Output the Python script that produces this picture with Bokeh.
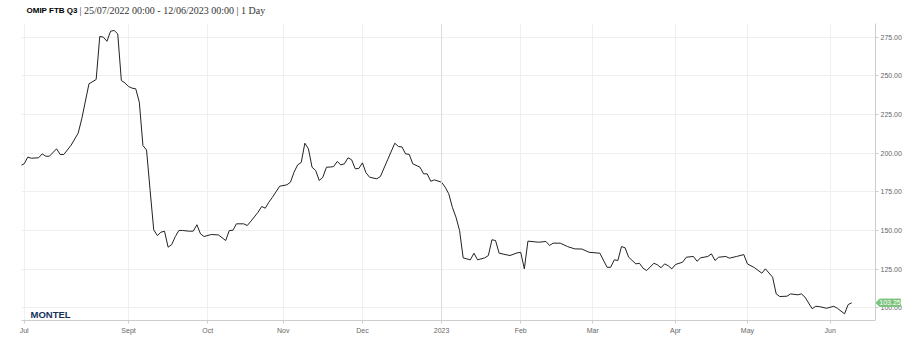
import numpy as np
from bokeh.plotting import figure
from bokeh.layouts import column, row
from bokeh.models import (Range1d, FixedTicker, NumeralTickFormatter, Label, Span,
                          ColumnDataSource, CustomJSTickFormatter)
from bokeh.core.properties import value
from bokeh.embed import file_html
from bokeh.resources import INLINE

# ---------------- data ----------------
dates = [
    "2022-07-21", "2022-07-22", "2022-07-25", "2022-07-26", "2022-07-28", "2022-07-29",
    "2022-08-01", "2022-08-02", "2022-08-04", "2022-08-05", "2022-08-08", "2022-08-10",
    "2022-08-12", "2022-08-15", "2022-08-17", "2022-08-19", "2022-08-22", "2022-08-23",
    "2022-08-24", "2022-08-25", "2022-08-26", "2022-08-29", "2022-08-30", "2022-08-31",
    "2022-09-01", "2022-09-02", "2022-09-05", "2022-09-06", "2022-09-07", "2022-09-08",
    "2022-09-09", "2022-09-12", "2022-09-13", "2022-09-14", "2022-09-15", "2022-09-16",
    "2022-09-19", "2022-09-20", "2022-09-21", "2022-09-22", "2022-09-26", "2022-09-27",
    "2022-09-28", "2022-09-29", "2022-09-30", "2022-10-04", "2022-10-06", "2022-10-10",
    "2022-10-11", "2022-10-12", "2022-10-13", "2022-10-17", "2022-10-18", "2022-10-19",
    "2022-10-21", "2022-10-24", "2022-10-25", "2022-10-26", "2022-10-27", "2022-10-31",
    "2022-11-02", "2022-11-03", "2022-11-04", "2022-11-07", "2022-11-08", "2022-11-09",
    "2022-11-10", "2022-11-11", "2022-11-14", "2022-11-15", "2022-11-16", "2022-11-17",
    "2022-11-18", "2022-11-21", "2022-11-22", "2022-11-23", "2022-11-24", "2022-11-25",
    "2022-11-28", "2022-11-29", "2022-11-30", "2022-12-01", "2022-12-02", "2022-12-05",
    "2022-12-07", "2022-12-08", "2022-12-12", "2022-12-14", "2022-12-15", "2022-12-16",
    "2022-12-19", "2022-12-20", "2022-12-21", "2022-12-23", "2022-12-26", "2022-12-27",
    "2022-12-28", "2022-12-29", "2023-01-02", "2023-01-03", "2023-01-04", "2023-01-05",
    "2023-01-06", "2023-01-09", "2023-01-10", "2023-01-12", "2023-01-13", "2023-01-16",
    "2023-01-18", "2023-01-19", "2023-01-20", "2023-01-23", "2023-01-24", "2023-01-27",
    "2023-01-31", "2023-02-01", "2023-02-02", "2023-02-03", "2023-02-08", "2023-02-10",
    "2023-02-13", "2023-02-14", "2023-02-16", "2023-02-20", "2023-02-22", "2023-02-24",
    "2023-02-28", "2023-03-03", "2023-03-07", "2023-03-08", "2023-03-09", "2023-03-10",
    "2023-03-13", "2023-03-14", "2023-03-15", "2023-03-17", "2023-03-20", "2023-03-21",
    "2023-03-22", "2023-03-24", "2023-03-27", "2023-03-28", "2023-03-29", "2023-03-30",
    "2023-03-31", "2023-04-03", "2023-04-05", "2023-04-06", "2023-04-10", "2023-04-11",
    "2023-04-12", "2023-04-14", "2023-04-17", "2023-04-18", "2023-04-19", "2023-04-21",
    "2023-04-24", "2023-04-26", "2023-04-28", "2023-05-01", "2023-05-03", "2023-05-05",
    "2023-05-08", "2023-05-10", "2023-05-11", "2023-05-12", "2023-05-16", "2023-05-17",
    "2023-05-19", "2023-05-22", "2023-05-23", "2023-05-25", "2023-05-26", "2023-05-29",
    "2023-05-31", "2023-06-02", "2023-06-05", "2023-06-07", "2023-06-08", "2023-06-09",
]
values = [
    192.0, 193.1, 197.4, 196.7, 197.0, 199.5,
    198.0, 198.0, 202.8, 199.1, 199.1, 205.0,
    212.9, 222.2, 244.8, 247.6, 275.4, 275.0,
    272.3, 278.8, 279.3, 277.1, 246.9, 245.4,
    243.1, 242.0, 241.6, 232.9, 204.9, 202.0,
    175.8, 150.4, 146.7, 148.9, 149.5, 139.2,
    140.9, 146.1, 150.0, 150.0, 149.5, 149.6,
    153.7, 147.8, 146.1, 147.4, 147.1, 143.5,
    150.0, 150.1, 154.3, 154.3, 153.2, 156.0,
    161.8, 165.5, 164.4, 168.3, 171.5, 178.6,
    179.5, 181.2, 187.7, 192.4, 194.0, 206.4,
    202.8, 190.9, 188.8, 182.3, 184.4, 190.9,
    191.0, 191.3, 194.6, 192.4, 193.1, 197.0,
    195.7, 189.9, 190.1, 193.7, 187.3, 184.4,
    183.4, 184.9, 195.7, 206.4, 204.3, 204.0,
    199.5, 199.2, 193.1, 190.9, 186.6, 186.6,
    181.8, 182.7, 181.2, 178.0, 173.7, 165.0,
    158.6, 150.0, 132.3, 131.0, 135.3, 131.0,
    132.3, 133.8, 144.0, 143.5, 135.3, 133.8,
    135.5, 135.9, 125.2, 143.1, 142.4, 142.9,
    140.3, 141.8, 141.8, 139.6, 138.1, 138.0,
    135.9, 135.3, 126.2, 126.2, 131.0, 130.6,
    139.6, 138.8, 132.7, 128.4, 128.8, 125.6,
    124.1, 128.8, 127.8, 125.9, 128.4, 127.2,
    125.2, 128.0, 129.5, 132.7, 133.2, 130.1,
    132.3, 133.2, 134.9, 130.6, 132.7, 133.2,
    132.1, 133.2, 134.4, 128.4, 125.9, 122.4,
    125.2, 119.8, 109.0, 107.3, 107.5, 109.0,
    108.4, 109.0, 106.9, 99.4, 101.0, 100.8,
    99.7, 101.0, 99.7, 96.1, 102.1, 103.25,
]
last_value = 103.25

tick_dates = ["2022-07-22", "2022-09-01", "2022-10-03", "2022-11-01", "2022-12-01",
              "2023-01-02", "2023-02-01", "2023-03-01", "2023-04-03", "2023-05-01",
              "2023-06-01"]
tick_labels = ["Jul", "Sept", "Oct", "Nov", "Dec", "2023", "Feb", "Mar", "Apr", "May", "Jun"]
y_ticks = [100, 125, 150, 175, 200, 225, 250, 275]

title_name = "OMIP FTB Q3"
title_range = "25/07/2022 00:00 - 12/06/2023 00:00"
title_interval = "1 Day"

# ordinal (trading-session) x positions, like the original's ordinal axis
origin = np.datetime64("2022-07-25")
xs = np.busday_count(origin, np.array(dates, dtype="datetime64[D]")).astype(float)
tick_pos = [int(v) for v in np.busday_count(origin, np.array(tick_dates, dtype="datetime64[D]"))]

src = ColumnDataSource(dict(x=xs, y=values))
yr = Range1d(91.8, 283.8)

GRID = "#efefef"
AXIS = "#cccccc"
LABEL = "#666666"

# ---------------- title strip ----------------
tf = figure(width=911, height=23, output_backend="svg", toolbar_location=None,
            x_range=Range1d(0, 911), y_range=Range1d(0, 23),
            x_axis_location=None, y_axis_location=None,
            min_border_left=0, min_border_right=0, min_border_top=0, min_border_bottom=0)
tf.outline_line_color = None
tf.xgrid.visible = False
tf.ygrid.visible = False
tf.add_layout(Label(x=26, y=13, x_units="screen", y_units="screen", text=title_name,
                    text_font="Liberation Sans", text_font_style="bold", text_font_size="8px",
                    text_color="#000000", text_baseline="middle"))
tf.add_layout(Label(x=79, y=13, x_units="screen", y_units="screen",
                    text="| " + title_range + " | " + title_interval,
                    text_font="Liberation Serif", text_font_size="10px",
                    text_color="#333333", text_baseline="middle"))

# ---------------- main chart ----------------
p = figure(width=875, height=330, output_backend="svg", toolbar_location=None,
           x_range=Range1d(-1.75, 235.6), y_range=yr, y_axis_location=None,
           min_border_left=21, min_border_right=0, min_border_top=0, min_border_bottom=33)
p.outline_line_color = None
p.xgrid.ticker = FixedTicker(ticks=tick_pos)
p.xgrid.grid_line_color = GRID
p.ygrid.ticker = FixedTicker(ticks=y_ticks)
p.ygrid.grid_line_color = GRID

xa = p.xaxis[0]
xa.ticker = FixedTicker(ticks=tick_pos)
xa.major_label_overrides = {t: l for t, l in zip(tick_pos, tick_labels)}
xa.axis_line_color = AXIS
xa.major_tick_line_color = AXIS
xa.major_tick_out = 3
xa.major_tick_in = 0
xa.minor_tick_line_color = None
xa.major_label_text_font = "Liberation Sans"
xa.major_label_text_font_size = "7px"
xa.major_label_text_color = LABEL
xa.major_label_standoff = 3

p.add_layout(Span(location=tick_pos[5], dimension="height", line_color="#dcdcdc", line_width=1))
p.line("x", "y", source=src, line_color="#222222", line_width=1)

p.add_layout(Label(x=9, y=6, x_units="screen", y_units="screen", text="MONTEL",
                   text_font="Liberation Sans", text_font_style="bold", text_font_size="9.5px",
                   text_color="#14325c", text_baseline="middle"))

# ---------------- right value axis strip ----------------
r = figure(width=36, height=330, output_backend="svg", toolbar_location=None,
           x_range=Range1d(0, 36), y_range=yr, x_axis_location=None, y_axis_location="left",
           min_border_left=0, min_border_right=0, min_border_top=0, min_border_bottom=33)
r.outline_line_color = None
r.xgrid.visible = False
r.ygrid.visible = False
ra = r.yaxis[0]
ra.ticker = FixedTicker(ticks=y_ticks)
ra.formatter = CustomJSTickFormatter(code="return ''")
ra.axis_line_color = AXIS
ra.major_tick_line_color = AXIS
ra.major_tick_in = 3
ra.major_tick_out = 0
ra.minor_tick_line_color = None
ra.major_label_standoff = 0
ra.major_label_text_font_size = "1px"

lab_x = 5
r.text(x=[lab_x] * len(y_ticks), y=y_ticks, text=[f"{v:.2f}" for v in y_ticks],
       text_font=value("Liberation Sans"), text_font_size="7px", text_color=LABEL,
       text_baseline="middle", text_align="left")

# last-price flag
h = 2.4
tip, sh, end = 0.5, 4.0, 25.0
r.patch(x=[tip, sh, end, end, sh],
        y=[last_value, last_value + h, last_value + h, last_value - h, last_value - h],
        fill_color="#7cc47c", line_color="#7cc47c")
r.text(x=[(sh + end) / 2], y=[last_value], text=[f"{last_value:.2f}"],
       text_font=value("Liberation Sans"), text_font_size="7px", text_color="white",
       text_baseline="middle", text_align="center")

layout = column(tf, row(p, r, spacing=0), spacing=0)
open("out.html", "w").write(file_html(layout, INLINE))
